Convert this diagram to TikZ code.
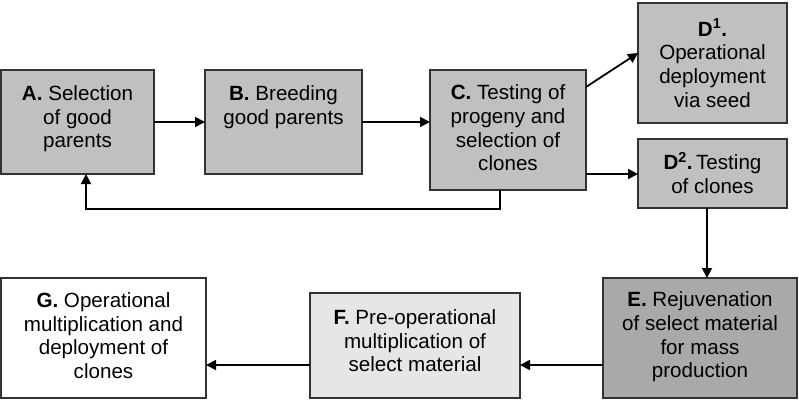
\documentclass[tikz,border=0pt]{standalone}
\usepackage{fontspec}
\setmainfont{Liberation Sans}
\usetikzlibrary{arrows.meta,calc}
\definecolor{boxgray}{HTML}{C0C0C0}
\definecolor{darkgray}{HTML}{A9A9A9}
\definecolor{lightgray}{HTML}{E6E6E6}
\tikzset{
  box/.style={draw=black!80, line width=1.3pt, inner sep=0pt, outer sep=0pt, fill=boxgray},
  txt/.style={align=center, inner sep=0pt, font=\fontsize{20.6}{23.6}\selectfont},
  arr/.style={line width=1.8pt, -{Triangle[length=10pt,width=10pt]}},
  ln/.style={line width=1.8pt}
}
\begin{document}
\begin{tikzpicture}[x=1pt,y=-1pt]
\useasboundingbox (0,0) rectangle (799,410);
\node[box, minimum width=153pt, minimum height=104pt] (A) at (77.5,122) {};
\node[box, minimum width=157pt, minimum height=104pt] (B) at (283.5,122) {};
\node[box, minimum width=156pt, minimum height=120pt] (C) at (508,130) {};
\node[box, minimum width=149pt, minimum height=120pt] (D1) at (712.5,63) {};
\node[box, minimum width=149pt, minimum height=69pt] (D2) at (712.5,173.5) {};
\node[box, fill=darkgray, minimum width=194pt, minimum height=120pt] (E) at (700,338) {};
\node[box, fill=lightgray, minimum width=210pt, minimum height=105pt] (F) at (415,345.5) {};
\node[box, fill=white, minimum width=205pt, minimum height=120pt] (G) at (103.5,338) {};

\node[txt] (tA) at (77.5,119) {\textbf{A.} Selection\\of good\\parents};
\node[txt] (tB) at (283.5,107) {\textbf{B.} Breeding\\good parents};
\node[txt] (tC) at (508,128) {\textbf{C.} Testing of\\progeny and\\selection of\\clones};
\node[txt] (tD1) at (712.5,63) {\textbf{D\textsuperscript{1}.}\\Operational\\deployment\\via seed};
\node[txt] (tD2) at (712.5,173) {\textbf{D\textsuperscript{2}.}\,Testing\\of clones};
\node[txt] (tE) at (700,337) {\textbf{E.} Rejuvenation\\of select material\\for mass\\production};
\node[txt] (tF) at (415,341) {\textbf{F.} Pre-operational\\multiplication of\\select material};
\node[txt] (tG) at (103.5,335.5) {\textbf{G.} Operational\\multiplication and\\deployment of\\clones};

\draw[arr] (A.east) -- (B.west);
\draw[arr] (B.east) -- (B.east -| C.west);
\coordinate (c1) at ($(C.north east)+(0,17)$);
\coordinate (d1) at ($(D1.west)+(0,-10)$);
\draw[arr] (c1) -- (d1);
\coordinate (d2w) at ($(D2.west)+(0,0.5)$);
\draw[arr] (C.east |- d2w) -- (d2w);
\coordinate (cs) at ($(C.south)+(-8,0)$);
\coordinate (as) at ($(A.south)+(8.5,0)$);
\draw[arr] (cs) -- ++(0,19) -| (as);
\coordinate (d2s) at ($(D2.south)+(-5.5,0)$);
\draw[arr] (d2s) -- (d2s |- E.north);
\coordinate (ew) at ($(E.west)+(0,27)$);
\draw[arr] (ew) -- (ew -| F.east);
\coordinate (fw) at ($(F.west)+(0,19.5)$);
\draw[arr] (fw) -- (fw -| G.east);
\end{tikzpicture}
\end{document}
